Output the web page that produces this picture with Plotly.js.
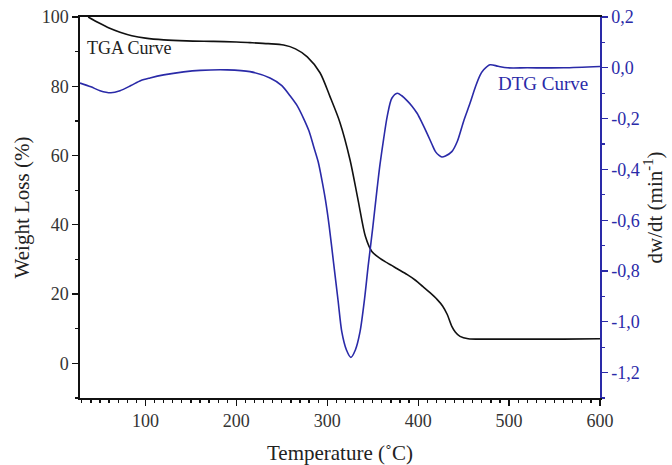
<!DOCTYPE html>
<html>
<head>
<meta charset="utf-8">
<script src="https://cdn.plot.ly/plotly-3.0.1.min.js"></script>
<style>html,body{margin:0;padding:0;background:#fff;}#chart{width:672px;height:465px;}</style>
</head>
<body>
<div id="chart"></div>
<script>
// TGA curve: temperature (°C) and weight (%)
const tgaTemp = [37, 48, 60, 72, 85, 100, 120, 145, 175, 200, 215, 235, 252, 265, 278, 292, 303, 314, 325, 334, 342, 349, 358, 366, 377, 388, 397, 405, 413, 421, 427, 432, 437, 441, 446, 455, 480, 520, 560, 600];
const tgaWeight = [100, 98.4, 96.8, 95.6, 94.6, 93.9, 93.4, 93.1, 92.95, 92.8, 92.6, 92.3, 91.9, 90.8, 88.5, 83.9, 77, 69.5, 58.8, 47, 36.6, 32.3, 30.3, 29, 27.3, 25.6, 24, 22.2, 20.4, 18.4, 16.5, 14.1, 10.7, 9.0, 7.8, 7.1, 7.0, 7.0, 7.0, 7.1];

// DTG curve: temperature (°C) and dw/dt (min^-1)
const dtgTemp = [28, 40, 50, 62, 72, 84, 95, 105, 120, 142, 160, 190, 215, 237, 250, 259, 267, 274, 280, 285, 290, 294, 298, 302, 307, 312, 316, 321, 326, 331, 336, 341, 345, 350, 355, 358, 362, 366, 371, 377, 382, 388, 393, 399, 404, 410, 415, 419, 423, 426, 430, 437, 443, 450, 457, 463, 468, 472, 479, 488, 498, 520, 560, 600];
const dtgRate = [-0.06, -0.075, -0.09, -0.098, -0.09, -0.07, -0.05, -0.04, -0.028, -0.016, -0.01, -0.008, -0.015, -0.04, -0.07, -0.11, -0.15, -0.2, -0.25, -0.31, -0.37, -0.44, -0.52, -0.62, -0.77, -0.92, -1.04, -1.11, -1.14, -1.11, -1.04, -0.91, -0.78, -0.63, -0.47, -0.38, -0.28, -0.19, -0.12, -0.10, -0.11, -0.13, -0.15, -0.18, -0.215, -0.26, -0.30, -0.33, -0.345, -0.351, -0.347, -0.33, -0.29, -0.21, -0.14, -0.075, -0.03, -0.008, 0.012, 0.006, 0.0, 0.0, 0.0, 0.005];

// Right-axis tick values and labels
const dtgTickVals = [-1.2, -1.0, -0.8, -0.6, -0.4, -0.2, 0.0, 0.2];
const dtgTickText = ['-1,2', '-1,0', '-0,8', '-0,6', '-0,4', '-0,2', '0,0', '0,2'];

const xTitle = 'Temperature (˚C)';
const yTitle = 'Weight Loss (%)';
const y2Title = 'dw/dt (min<sup>-1</sup>)';
const labelTGA = 'TGA Curve';
const labelDTG = 'DTG Curve';

const blue = '#2a2aa8';
const serif = 'Liberation Serif, Times New Roman, serif';

const traces = [
  {x: tgaTemp, y: tgaWeight, mode: 'lines', line: {color: '#111', width: 1.6, shape: 'spline', smoothing: 0.8}, yaxis: 'y', hoverinfo: 'skip'},
  {x: dtgTemp, y: dtgRate, mode: 'lines', line: {color: blue, width: 1.6, shape: 'spline', smoothing: 0.8}, yaxis: 'y2', hoverinfo: 'skip'}
];

const layout = {
  width: 672, height: 465,
  margin: {l: 80, r: 72, t: 17, b: 67},
  paper_bgcolor: '#fff', plot_bgcolor: '#fff',
  showlegend: false,
  font: {family: serif, color: '#222'},
  xaxis: {
    range: [28, 600], tickvals: [100, 200, 300, 400, 500, 600],
    ticks: 'outside', ticklen: 6, tickwidth: 1.2, tickcolor: '#111',
    minor: {dtick: 10, tick0: 0, ticks: 'outside', ticklen: 3, tickcolor: '#111', showgrid: false},
    showline: true, linecolor: '#111', linewidth: 1.6, mirror: true,
    showgrid: false, zeroline: false,
    tickfont: {size: 18, family: serif, color: '#333'},
    title: {text: xTitle, font: {size: 21, family: serif, color: '#222'}, standoff: 16},
    automargin: false
  },
  yaxis: {
    range: [-10, 100], tickvals: [0, 20, 40, 60, 80, 100],
    ticks: 'outside', ticklen: 6, tickwidth: 1.2, tickcolor: '#111',
    minor: {dtick: 10, tick0: 0, ticks: 'outside', ticklen: 3, tickcolor: '#111', showgrid: false},
    showline: true, linecolor: '#111', linewidth: 1.6,
    showgrid: false, zeroline: false,
    tickfont: {size: 18, family: serif, color: '#333'},
    title: {text: yTitle, font: {size: 21, family: serif, color: '#222'}, standoff: 6},
    automargin: false
  },
  yaxis2: {
    overlaying: 'y', side: 'right',
    range: [-1.3, 0.2], tickvals: dtgTickVals, ticktext: dtgTickText,
    ticks: 'outside', ticklen: 6, tickwidth: 1.2, tickcolor: blue,
    minor: {dtick: 0.1, tick0: 0, ticks: 'outside', ticklen: 3, tickcolor: blue, showgrid: false},
    showline: true, linecolor: blue, linewidth: 1.6,
    showgrid: false, zeroline: false,
    tickfont: {size: 18, family: serif, color: blue},
    title: {text: y2Title, font: {size: 21, family: serif, color: '#222'}, standoff: 6},
    automargin: false
  },
  annotations: [
    {text: labelTGA, x: 33, y: 91, xref: 'x', yref: 'y', xanchor: 'left', yanchor: 'middle', showarrow: false, font: {size: 18, family: serif, color: '#222'}},
    {text: labelDTG, x: 486, y: -0.063, xref: 'x', yref: 'y2', xanchor: 'left', yanchor: 'middle', showarrow: false, font: {size: 19, family: serif, color: blue}}
  ]
};

Plotly.newPlot('chart', traces, layout, {displayModeBar: false, staticPlot: true});
</script>
</body>
</html>
